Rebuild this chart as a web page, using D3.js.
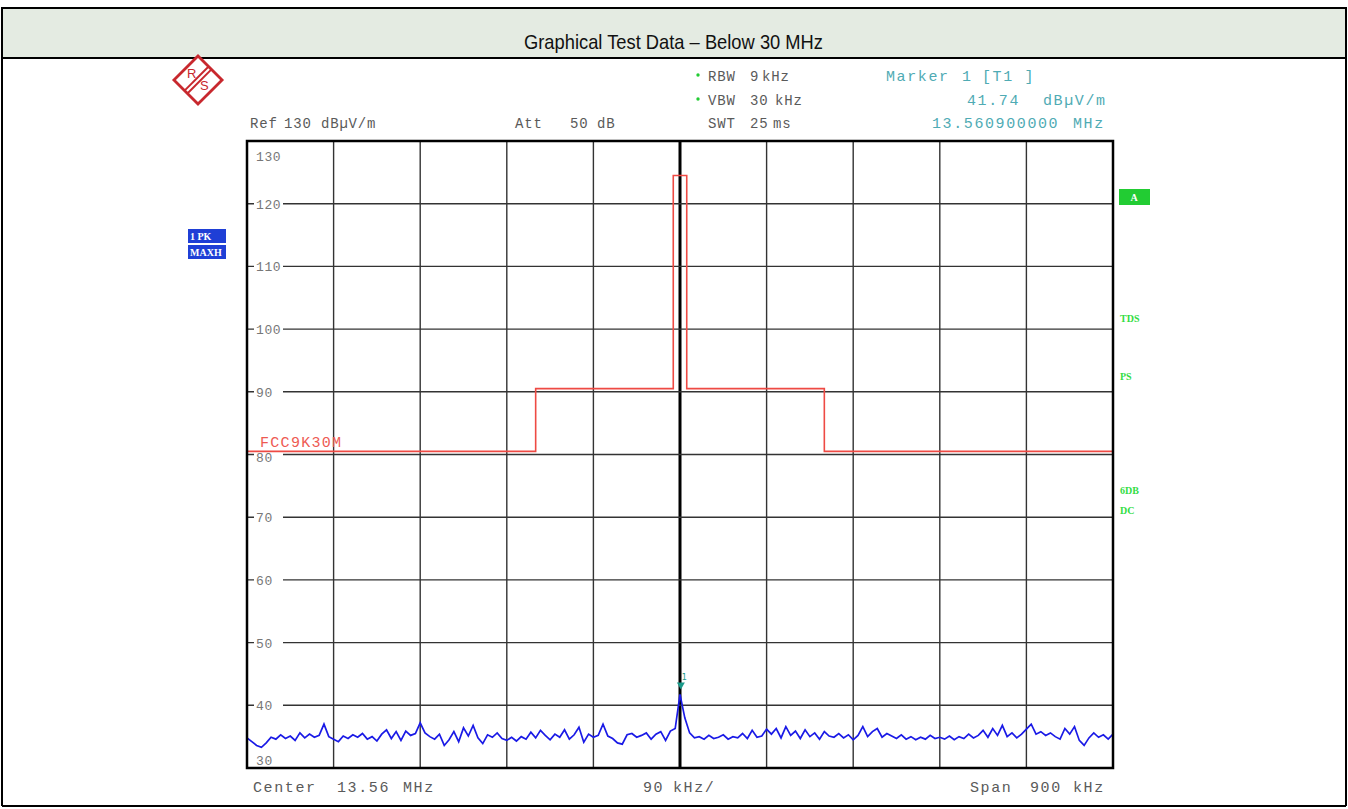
<!DOCTYPE html>
<html>
<head>
<meta charset="utf-8">
<script src="https://cdn.jsdelivr.net/npm/d3@7"></script>
<style>
  body { margin: 0; background: #fff; }
  .mono { font-family: "Liberation Mono", "DejaVu Sans Mono", monospace; }
</style>
</head>
<body>
<script>
// ---------------- data ----------------
const titleText = "Graphical Test Data \u2013 Below 30 MHz";
const levelTicks = [130, 120, 110, 100, 90, 80, 70, 60, 50, 40, 30];
const freqGrid = [13.11, 13.20, 13.29, 13.38, 13.47, 13.56, 13.65, 13.74, 13.83, 13.92, 14.01];
// FCC 15.225 mask extrapolated to 3 m
const limitFreq = [13.11, 13.41, 13.41, 13.553, 13.553, 13.567, 13.567, 13.71, 13.71, 14.01];
const limitLevel = [80.5, 80.5, 90.5, 90.5, 124.5, 124.5, 90.5, 90.5, 80.5, 80.5];
// trace, 5 kHz per point from 13.11 MHz
const traceLevel = [
  34.8, 34.2, 33.6, 33.3, 34.0, 34.9, 34.6, 35.3, 34.7, 35.1, 34.4, 35.6, 34.8, 35.4, 34.9, 35.2, 37.0, 35.0,
  34.6, 34.2, 35.1, 34.7, 35.3, 34.9, 35.5, 34.6, 35.0, 34.3, 35.4, 36.1, 34.7, 35.8, 34.4, 35.9, 35.2, 35.5,
  37.2, 35.6, 35.0, 34.6, 35.4, 33.6, 34.5, 35.8, 34.2, 36.4, 35.1, 36.8, 34.8, 33.9, 35.3, 34.9, 35.6, 34.7,
  34.4, 34.9, 34.3, 35.0, 34.6, 35.7, 34.8, 36.0, 35.2, 34.5, 35.4, 34.9, 36.1, 34.6, 35.3, 36.5, 34.1, 35.4,
  34.9, 35.2, 37.0, 35.1, 34.7, 34.0, 33.8, 35.3, 35.5, 34.9, 35.2, 35.6, 34.6, 35.4, 35.8, 34.4, 35.9, 36.3,
  41.74,
  38.0, 35.6, 34.8, 35.0, 34.6, 35.2, 34.7, 34.9, 35.3, 34.6, 35.0, 34.8, 35.5, 34.7, 36.0, 34.9, 35.1, 36.2,
  35.4, 36.3, 34.8, 36.6, 35.2, 35.9, 34.7, 36.1, 35.0, 35.6, 34.6, 35.8, 35.1, 34.9, 35.5, 34.8, 35.3, 34.5,
  35.2, 36.6, 35.0, 35.8, 36.3, 34.9, 35.5, 35.1, 34.7, 35.3, 34.6, 35.0, 34.5, 34.9, 34.6, 35.2, 34.7, 34.9,
  34.6, 35.1, 34.5, 35.0, 34.7, 35.4, 34.8, 35.2, 36.0, 34.9, 36.3, 35.2, 36.8, 35.0, 35.6, 34.8, 35.4, 36.2,
  37.0, 35.4, 35.8, 35.2, 35.6, 35.0, 34.6, 36.3, 35.4, 36.6, 34.4, 33.6, 34.8, 35.6, 34.9, 35.3, 34.6, 35.4
];
const traceStart = 13.11, traceStep = 0.005;
const markerFreq = 13.5609, markerLevel = 41.74;
const rightFlags = [["TDS", 322], ["PS", 380], ["6DB", 494], ["DC", 514]];

// ---------------- layout ----------------
const W = 1348, H = 809;
const plot = { left: 247, right: 1113, top: 141, bottom: 768 };

const svg = d3.select("body").append("svg").attr("width", W).attr("height", H);

// header band of the report table
svg.append("rect").attr("x", 2).attr("y", 8).attr("width", W - 4).attr("height", 50)
  .attr("fill", "#e4ebe2").attr("stroke", "#000").attr("stroke-width", 2);
svg.append("line").attr("x1", 2).attr("x2", 2).attr("y1", 8).attr("y2", 806).attr("stroke", "#000").attr("stroke-width", 2);
svg.append("line").attr("x1", W - 2).attr("x2", W - 2).attr("y1", 8).attr("y2", 806).attr("stroke", "#000").attr("stroke-width", 2);
svg.append("line").attr("x1", 2).attr("x2", W - 2).attr("y1", 806).attr("y2", 806).attr("stroke", "#000").attr("stroke-width", 2);
svg.append("text").attr("x", 524).attr("y", 49)
  .attr("font-family", "Liberation Sans, Arial, sans-serif").attr("font-size", 21).attr("fill", "#111")
  .attr("textLength", 299).attr("lengthAdjust", "spacingAndGlyphs")
  .text(titleText);

// scales
const x = d3.scaleLinear().domain([13.11, 14.01]).range([plot.left, plot.right]);
const y = d3.scaleLinear().domain([30, 130]).range([plot.bottom, plot.top]);

const g = svg.append("g");

// grid
g.selectAll(".vgrid").data(freqGrid.slice(1, -1)).enter().append("line")
  .attr("x1", d => x(d)).attr("x2", d => x(d)).attr("y1", plot.top).attr("y2", plot.bottom)
  .attr("stroke", d => d === 13.56 ? "#000" : "#333")
  .attr("stroke-width", d => d === 13.56 ? 3 : 1.4);
g.selectAll(".hgrid").data(levelTicks.slice(1, -1)).enter().append("line")
  .attr("x1", plot.left).attr("x2", plot.right).attr("y1", d => y(d)).attr("y2", d => y(d))
  .attr("stroke", "#333").attr("stroke-width", 1.4);

// level labels sitting on the grid lines
const lab = g.selectAll(".lvl").data(levelTicks).enter().append("g");
lab.filter(d => d !== 130 && d !== 30).append("rect")
  .attr("x", plot.left + 7).attr("y", d => y(d) - 6).attr("width", 29).attr("height", 12).attr("fill", "#fff");
lab.append("text").attr("class", "mono")
  .attr("x", plot.left + 9)
  .attr("y", d => d === 130 ? y(d) + 20 : d === 30 ? y(d) - 3 : d === 80 ? y(d) + 7 : y(d) + 5)
  .attr("font-size", 13).attr("letter-spacing", 0.6).attr("fill", "#777")
  .text(d => d);

// limit line
const limitPts = limitFreq.map((f, i) => [f, limitLevel[i]]);
g.append("path").datum(limitPts)
  .attr("d", d3.line().x(d => x(d[0])).y(d => y(d[1])))
  .attr("fill", "none").attr("stroke", "#ee4a44").attr("stroke-width", 1.6);
g.append("text").attr("class", "mono").attr("x", 260).attr("y", y(80.5) - 4)
  .attr("font-size", 15).attr("letter-spacing", 1.3).attr("fill", "#ee5a52").text("FCC9K30M");

// trace
const tracePts = traceLevel.map((v, i) => [traceStart + i * traceStep, v]);
g.append("path").datum(tracePts)
  .attr("d", d3.line().x(d => x(d[0])).y(d => y(d[1])))
  .attr("fill", "none").attr("stroke", "#1a1ae6").attr("stroke-width", 1.7);

// marker
const mx = x(markerFreq), my = y(markerLevel);
g.append("path").attr("d", `M${mx - 4},${my - 12}L${mx + 4},${my - 12}L${mx},${my - 5}Z`).attr("fill", "#1b9a8a");
g.append("text").attr("x", mx + 1).attr("y", my - 14).attr("font-size", 8).attr("fill", "#1b9a8a")
  .attr("font-family", "DejaVu Sans").text("1");

// frame
g.append("rect").attr("x", plot.left).attr("y", plot.top)
  .attr("width", plot.right - plot.left).attr("height", plot.bottom - plot.top)
  .attr("fill", "none").attr("stroke", "#000").attr("stroke-width", 2.5);

// header settings text
const grayTxt = "#5a5a5a", teal = "#4fabb4", green = "#22cc33";
function t(xp, yp, s, fill, size, ls) {
  return svg.append("text").attr("class", "mono").attr("x", xp).attr("y", yp)
    .attr("font-size", size || 15).attr("letter-spacing", ls == null ? 1.6 : ls)
    .attr("fill", fill || grayTxt).text(s);
}
// gray settings, slightly smaller
t(250, 128, "Ref", null, 14, 0.8); t(284, 128, "130", null, 14, 0.8); t(321, 128, "dB\u00b5V/m", null, 14, 0.8);
t(515, 128, "Att", null, 14, 0.8); t(570, 128, "50", null, 14, 0.8); t(597, 128, "dB", null, 14, 0.8);
t(708, 81, "RBW", null, 14, 0.8); t(750, 81, "9", null, 14, 0.8); t(762, 81, "kHz", null, 14, 0.8);
t(708, 105, "VBW", null, 14, 0.8); t(750, 105, "30", null, 14, 0.8); t(775, 105, "kHz", null, 14, 0.8);
t(708, 128, "SWT", null, 14, 0.8); t(750, 128, "25", null, 14, 0.8); t(773, 128, "ms", null, 14, 0.8);
svg.append("circle").attr("cx", 698).attr("cy", 75).attr("r", 1.7).attr("fill", green);
svg.append("circle").attr("cx", 698).attr("cy", 99).attr("r", 1.7).attr("fill", green);
// marker readout
t(886, 81, "Marker", teal); t(962, 81, "1", teal); t(982, 81, "[T1 ]", teal);
t(967, 105, "41.74", teal); t(1043, 105, "dB\u00b5V/m", teal);
t(932, 128, "13.560900000", teal); t(1073, 128, "MHz", teal);

// footer
t(253, 792, "Center"); t(337, 792, "13.56"); t(403, 792, "MHz");
t(643, 792, "90"); t(673, 792, "kHz/");
t(970, 792, "Span"); t(1030, 792, "900"); t(1073, 792, "kHz");

// left trace flags
const flagFont = "Liberation Serif, DejaVu Serif, serif";
[["1 PK", 229], ["MAXH", 245]].forEach(([s, yy]) => {
  svg.append("rect").attr("x", 188).attr("y", yy).attr("width", 38).attr("height", 14).attr("fill", "#1f3fd6");
  svg.append("text").attr("x", 190).attr("y", yy + 11).attr("font-family", flagFont).attr("font-weight", "bold")
    .attr("font-size", 10).attr("fill", "#fff").text(s);
});

// right flags
svg.append("rect").attr("x", 1119).attr("y", 189).attr("width", 31).attr("height", 16).attr("fill", "#22cc33");
svg.append("text").attr("x", 1134).attr("y", 201).attr("text-anchor", "middle").attr("font-family", flagFont)
  .attr("font-weight", "bold").attr("font-size", 10).attr("fill", "#fff").text("A");
svg.selectAll(".rflag").data(rightFlags).enter().append("text")
  .attr("x", 1120).attr("y", d => d[1]).attr("font-family", flagFont).attr("font-weight", "bold")
  .attr("font-size", 10).attr("fill", "#33dd44").text(d => d[0]);

// R&S logo
const logo = svg.append("g").attr("transform", "translate(198,80) rotate(45)");
logo.append("rect").attr("x", -17).attr("y", -17).attr("width", 34).attr("height", 34)
  .attr("fill", "#fff").attr("stroke", "#c8282e").attr("stroke-width", 2.8);
logo.append("line").attr("x1", -2).attr("x2", -2).attr("y1", -17).attr("y2", 17)
  .attr("stroke", "#c8282e").attr("stroke-width", 2);
logo.append("line").attr("x1", 2).attr("x2", 2).attr("y1", -17).attr("y2", 17)
  .attr("stroke", "#c8282e").attr("stroke-width", 2);
logo.append("text").attr("x", -9).attr("y", 4).attr("text-anchor", "middle").attr("transform", "rotate(-45,-9,0)")
  .attr("font-family", "Liberation Sans").attr("font-size", 13).attr("fill", "#c8282e").text("R");
logo.append("text").attr("x", 9).attr("y", 4).attr("text-anchor", "middle").attr("transform", "rotate(-45,9,0)")
  .attr("font-family", "Liberation Sans").attr("font-size", 13).attr("fill", "#c8282e").text("S");
</script>
</body>
</html>
